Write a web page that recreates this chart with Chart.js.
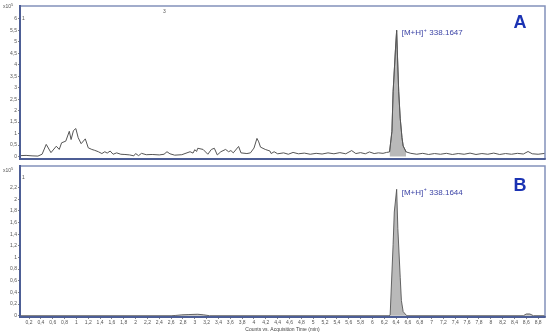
<!DOCTYPE html>
<html><head><meta charset="utf-8">
<script src="https://cdn.jsdelivr.net/npm/chart.js@4.4.0/dist/chart.umd.min.js"></script>
<style>
html,body{margin:0;padding:0;background:#fff;width:550px;height:335px;overflow:hidden}
#wa{position:absolute;left:0;top:0;width:550px;height:163px}
#wb{position:absolute;left:0;top:162px;width:550px;height:173px}
</style></head><body>
<div id="wa"><canvas id="ca" width="550" height="163"></canvas></div>
<div id="wb"><canvas id="cb" width="550" height="173"></canvas></div>
<script>
// ---- data (retention time in min, counts in x10^5) ----
const timesA = [0.05,0.15,0.25,0.35,0.42,0.49,0.57,0.66,0.71,0.75,0.82,0.88,0.91,0.95,0.99,1.03,1.08,1.15,1.20,1.26,1.31,1.37,1.43,1.48,1.52,1.57,1.62,1.68,1.75,1.82,1.90,1.97,2.00,2.05,2.10,2.18,2.28,2.40,2.48,2.53,2.58,2.66,2.78,2.92,2.97,3.00,3.03,3.05,3.14,3.22,3.28,3.33,3.38,3.44,3.52,3.57,3.61,3.65,3.74,3.78,3.88,3.94,4.00,4.05,4.08,4.11,4.19,4.27,4.29,4.34,4.40,4.50,4.58,4.66,4.75,4.85,4.95,5.05,5.15,5.25,5.35,5.45,5.55,5.65,5.72,5.80,5.88,5.95,6.03,6.10,6.18,6.24,6.29,6.33,6.35,6.39,6.41,6.42,6.445,6.47,6.50,6.52,6.57,6.65,6.75,6.85,6.95,7.05,7.15,7.25,7.35,7.45,7.55,7.65,7.75,7.85,7.95,8.05,8.15,8.25,8.35,8.45,8.55,8.63,8.70,8.80,8.92];
const countsA = [0.04,0.05,0.03,0.02,0.10,0.53,0.17,0.45,0.31,0.60,0.67,1.10,0.74,1.13,1.22,0.82,0.56,0.77,0.38,0.31,0.27,0.21,0.13,0.21,0.15,0.24,0.10,0.16,0.10,0.09,0.07,0.03,0.13,0.04,0.14,0.08,0.09,0.07,0.10,0.21,0.12,0.06,0.08,0.21,0.15,0.30,0.22,0.36,0.31,0.10,0.31,0.36,0.07,0.21,0.31,0.21,0.26,0.16,0.44,0.16,0.13,0.16,0.37,0.79,0.64,0.41,0.31,0.24,0.13,0.21,0.12,0.16,0.10,0.18,0.12,0.15,0.10,0.14,0.11,0.16,0.12,0.17,0.12,0.26,0.13,0.17,0.12,0.20,0.13,0.16,0.14,0.18,0.20,1.10,2.82,4.68,5.50,4.68,2.82,1.67,0.82,0.46,0.20,0.14,0.10,0.14,0.09,0.13,0.10,0.14,0.09,0.13,0.10,0.15,0.09,0.13,0.10,0.15,0.09,0.13,0.10,0.14,0.11,0.22,0.12,0.10,0.14];
const timesB = [0.05,2.60,2.68,2.78,2.90,3.05,3.15,3.25,6.28,6.30,6.35,6.37,6.41,6.43,6.47,6.49,6.52,6.58,8.55,8.60,8.66,8.72,8.92];
const countsB = [0,0,0.005,0.015,0.02,0.025,0.015,0,0,0.01,1.22,1.78,2.17,1.50,0.66,0.26,0.07,0,0,0.03,0.03,0,0];
const peakRange = [6.29, 6.57];
const peakLabelA = "338.1647";
const peakLabelB = "338.1644";
const yTicksA = [0,0.5,1,1.5,2,2.5,3,3.5,4,4.5,5,5.5,6];
const yTicksB = [0,0.2,0.4,0.6,0.8,1,1.2,1.4,1.6,1.8,2,2.2];
const xTicks = [0.2,0.4,0.6,0.8,1,1.2,1.4,1.6,1.8,2,2.2,2.4,2.6,2.8,3,3.2,3.4,3.6,3.8,4,4.2,4.4,4.6,4.8,5,5.2,5.4,5.6,5.8,6,6.2,6.4,6.6,6.8,7,7.2,7.4,7.6,7.8,8,8.2,8.4,8.6,8.8];
const xTitle = "Counts vs. Acquisition Time (min)";

const FONT = '"Liberation Sans", Arial, sans-serif';
const fmt = v => String(Math.round(v*10)/10).replace('.', ',');
const pts = (t, c) => t.map((x, i) => ({x, y: c[i]}));
const traceA = pts(timesA, countsA);
const peakA = traceA.filter(p => p.x >= peakRange[0] && p.x <= peakRange[1]);
const traceB = pts(timesB, countsB);

const framePlugin = {
  id: 'frame',
  afterDatasetsDraw(chart, args, o) {
    const {ctx, chartArea: a} = chart;
    ctx.save();
    ctx.strokeStyle = '#8391bb'; ctx.lineWidth = 1.5;
    ctx.beginPath(); ctx.moveTo(a.left, a.top); ctx.lineTo(a.right, a.top); ctx.lineTo(a.right, a.bottom); ctx.stroke();
    ctx.strokeStyle = '#4d5e95'; ctx.lineWidth = 2;
    ctx.beginPath(); ctx.moveTo(a.left, a.top - 1); ctx.lineTo(a.left, a.bottom); ctx.lineTo(a.right + 0.75, a.bottom); ctx.stroke();
    // panel letter
    ctx.fillStyle = '#1b33b3'; ctx.font = 'bold 18px ' + FONT; ctx.textAlign = 'center'; ctx.textBaseline = 'alphabetic';
    ctx.fillText(o.letter, a.right - 25, a.top + o.letterDy);
    // peak annotation
    const xs = chart.scales.x, ys = chart.scales.y;
    const px = xs.getPixelForValue(o.peakX) + 5, py = ys.getPixelForValue(o.peakY) + 3;
    ctx.fillStyle = '#3c44a6'; ctx.textAlign = 'left'; ctx.textBaseline = 'middle';
    ctx.font = '8px ' + FONT;
    const s1 = '[M+H]'; ctx.fillText(s1, px, py);
    let w = ctx.measureText(s1).width;
    ctx.font = '5px ' + FONT; ctx.fillText('+', px + w + 0.5, py - 3);
    w += ctx.measureText('+').width + 1;
    ctx.font = '8px ' + FONT; ctx.fillText(' ' + o.mass, px + w, py);
    // scale factor label and marker numbers
    ctx.fillStyle = '#555'; ctx.font = '5px ' + FONT; ctx.textAlign = 'left';
    ctx.fillText('x10', 3, a.top + o.expDy);
    ctx.font = '4px ' + FONT; ctx.fillText('5', 11, a.top + o.expDy - 2);
    ctx.font = '5px ' + FONT;
    ctx.fillText('1', a.left + 2, a.top + o.oneDy);
    if (o.three) ctx.fillText('3', o.three, a.top + 6);
    ctx.restore();
  }
};

function yScale(min, max, ticks) {
  return {
    min, max,
    afterBuildTicks: s => { s.ticks = ticks.map(v => ({value: v})); },
    afterFit: s => { s.width = 20; },
    grid: {drawOnChartArea: false, tickLength: 2, color: '#666', lineWidth: 0.8},
    border: {display: false},
    ticks: {font: {size: 5, family: FONT}, color: '#555', padding: 1, callback: v => fmt(v)}
  };
}

new Chart(document.getElementById('ca'), {
  type: 'line',
  data: {datasets: [
    {data: traceA, borderColor: '#555', borderWidth: 1, pointRadius: 0, fill: false, tension: 0},
    {data: peakA, borderColor: '#555', borderWidth: 0.8, backgroundColor: '#b9b9b9', pointRadius: 0, fill: 'origin', tension: 0}
  ]},
  options: {
    animation: false, responsive: false, devicePixelRatio: 1,
    layout: {padding: {top: 6, right: 5, bottom: 1.5, left: 0}},
    plugins: {legend: {display: false}, tooltip: {enabled: false},
      frame: {letter: 'A', letterDy: 22, peakX: 6.41, peakY: 5.5, mass: peakLabelA, expDy: 1, oneDy: 13, three: 163}},
    scales: {
      x: {type: 'linear', min: 0.047, max: 8.916, display: false},
      y: yScale(-0.107, 6.557, yTicksA)
    }
  },
  plugins: [framePlugin]
});

new Chart(document.getElementById('cb'), {
  type: 'line',
  data: {datasets: [
    {data: traceB, borderColor: '#555', borderWidth: 0.9, backgroundColor: '#b9b9b9', pointRadius: 0, fill: 'origin', tension: 0}
  ]},
  options: {
    animation: false, responsive: false, devicePixelRatio: 1,
    layout: {padding: {top: 1, right: 5, bottom: 0, left: 0}},
    plugins: {legend: {display: false}, tooltip: {enabled: false},
      frame: {letter: 'B', letterDy: 25, peakX: 6.41, peakY: 2.17, mass: peakLabelB, expDy: 5, oneDy: 12, three: 0}},
    scales: {
      x: {type: 'linear', min: 0.047, max: 8.916,
        afterBuildTicks: s => { s.ticks = xTicks.map(v => ({value: v})); },
        afterFit: s => { s.height = 18; },
        grid: {drawOnChartArea: false, tickLength: 2, color: '#666', lineWidth: 0.8},
        border: {display: false},
        ticks: {font: {size: 5, family: FONT}, color: '#555', padding: 1, maxRotation: 0, autoSkip: false, callback: v => fmt(v)},
        title: {display: true, text: xTitle, font: {size: 5, family: FONT}, color: '#444', padding: {top: 0, bottom: 2}}
      },
      y: yScale(-0.022, 2.57, yTicksB)
    }
  },
  plugins: [framePlugin]
});
</script>
</body></html>
